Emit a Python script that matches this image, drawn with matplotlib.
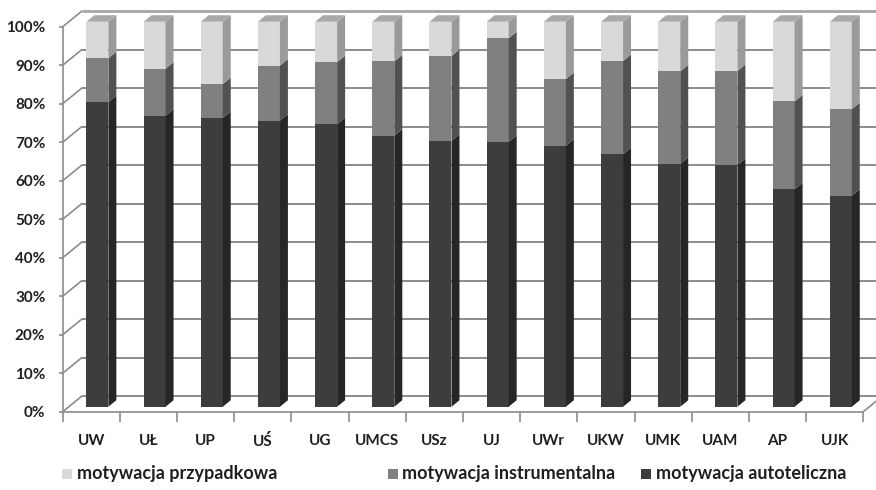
import matplotlib
matplotlib.use('Agg')
import matplotlib.pyplot as plt
from matplotlib.patches import Polygon, Rectangle

# dane (%)
uczelnie = ['UW', 'UŁ', 'UP', 'UŚ', 'UG', 'UMCS', 'USz', 'UJ', 'UWr', 'UKW', 'UMK', 'UAM', 'AP', 'UJK']
autoteliczna = [79.1, 75.6, 75.0, 74.3, 73.4, 70.4, 69.1, 68.8, 67.8, 65.6, 63.1, 62.8, 56.5, 54.8]
instrumentalna = [11.4, 12.2, 8.8, 14.3, 16.1, 19.3, 22.0, 26.9, 17.3, 24.2, 24.0, 24.4, 22.8, 22.5]
przypadkowa = [9.5, 12.2, 16.2, 11.4, 10.5, 10.3, 8.9, 4.3, 14.9, 10.2, 12.9, 12.8, 20.7, 22.7]
serie = ['motywacja przypadkowa', 'motywacja instrumentalna', 'motywacja autoteliczna']

# kolory: przod, bok
kol_auto = ('#3d3d3d', '#262626')
kol_instr = ('#808080', '#515151')
kol_przyp = ('#d9d9d9', '#9a9a9a')
kol_top = '#a9a9a9'
kol_siatka = '#8c8c8c'
kol_tekst = '#1f1f1f'
FONT = ['Lato', 'DejaVu Sans']

W, H = 876, 490
fig = plt.figure(figsize=(W / 100, H / 100), dpi=100)
# os "przednia": x 0..14 -> 62.7..863.3 px, y 0..100 -> 411.7..26.7 px
L, R, B, T = 62.7, 863.3, 411.7, 26.7
ax = fig.add_axes([L / W, 1 - B / H, (R - L) / W, (B - T) / H])
n = len(uczelnie)
ax.set_xlim(0, n)
ax.set_ylim(0, 100)

# glebokosc sciany (3D)
wdx, wdy = 19 / ((R - L) / n), 15.5 / ((B - T) / 100)
f0, f1 = 0.32, 0.74  # poczatek i koniec slupka w glebi
fdx, fdy = f0 * wdx, f0 * wdy
sdx, sdy = (f1 - f0) * wdx, (f1 - f0) * wdy
szer = 0.385

# siatka: sciana lewa + tylna
poziomy = list(range(0, 101, 10))
for v in poziomy:
    ax.plot([0, wdx], [v, v + wdy], color=kol_siatka, lw=1.2, clip_on=False, zorder=1)
ax.hlines([v + wdy for v in poziomy[:-1]], wdx, n + wdx + 0.5, colors=kol_siatka,
          lw=1.4, clip_on=False, zorder=2)
ax.hlines(100 + wdy, wdx, n + wdx + 0.5, colors='#a6a6a6', lw=2.0, clip_on=False, zorder=2)
# podloga - prawa krawedz
ax.plot([n, n + wdx], [0, wdy], color=kol_siatka, lw=1.2, clip_on=False, zorder=1)

x = [i + 0.5 for i in range(n)]
xs = [xi - szer / 2 + fdx for xi in x]
dol = [0] * n
for vals, (cf, cb) in [(autoteliczna, kol_auto), (instrumentalna, kol_instr), (przypadkowa, kol_przyp)]:
    ax.bar(xs, vals, width=szer, bottom=[d + fdy for d in dol], align='edge',
           color=cf, lw=0, zorder=3, clip_on=False)
    for i in range(n):
        xr = xs[i] + szer
        b, t = dol[i] + fdy, dol[i] + vals[i] + fdy
        ax.add_patch(Polygon([(xr, b), (xr + sdx, b + sdy), (xr + sdx, t + sdy), (xr, t)],
                             closed=True, fc=cb, lw=0, zorder=3, clip_on=False))
    dol = [d + v for d, v in zip(dol, vals)]

for i in range(n):
    t = dol[i] + fdy
    ax.add_patch(Polygon([(xs[i], t), (xs[i] + szer, t), (xs[i] + szer + sdx, t + sdy),
                          (xs[i] + sdx, t + sdy)], closed=True, fc=kol_top, lw=0,
                         zorder=3, clip_on=False))

# osie
for s in ['top', 'right']:
    ax.spines[s].set_visible(False)
for s in ['left', 'bottom']:
    ax.spines[s].set_color(kol_siatka)
    ax.spines[s].set_linewidth(1.2)
ax.patch.set_visible(False)

ax.set_yticks(poziomy)
ax.set_yticklabels(['%d%%' % v for v in poziomy], fontsize=11,
                   fontweight='bold', color=kol_tekst, family=FONT)
ax.tick_params(axis='y', length=3, width=1.2, color=kol_siatka, pad=9.5)

ax.set_xticks(range(n + 1))
ax.set_xticklabels([])
ax.set_xticks(x, minor=True)
ax.set_xticklabels(uczelnie, minor=True, fontsize=11, fontweight='bold',
                   color=kol_tekst, family=FONT)
ax.tick_params(axis='x', which='major', length=7, width=1.2, color=kol_siatka)
ax.tick_params(axis='x', which='minor', length=0, pad=16)

# legenda
leg_x = [(62, 77), (388, 402), (641, 656)]
leg_kol = [kol_przyp[0], kol_instr[0], kol_auto[0]]
leg_y = 473
for (xk, xt), c, s in zip(leg_x, leg_kol, serie):
    fig.patches.append(Rectangle((xk / W, 1 - (leg_y + 6) / H), 10 / W, 10 / H,
                                 transform=fig.transFigure, fc=c, lw=0))
    fig.text(xt / W, 1 - leg_y / H, s, fontsize=13, fontweight='bold', color=kol_tekst,
             family=FONT, va='center', ha='left')

fig.savefig('out.png', dpi=100)
